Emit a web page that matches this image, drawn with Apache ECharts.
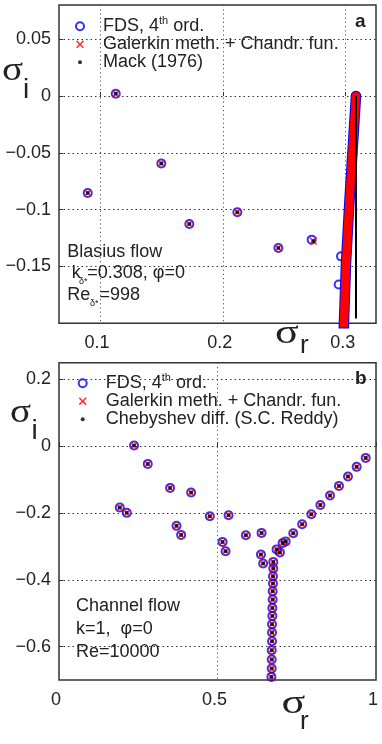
<!DOCTYPE html>
<html>
<head>
<meta charset="utf-8">
<script src="https://cdn.jsdelivr.net/npm/echarts@6/dist/echarts.min.js"></script>
<style>
html, body { margin: 0; padding: 0; background: #fff; }
#chart { width: 382px; height: 744px; }
</style>
</head>
<body>
<div id="chart"></div>
<script>
// ---- panel a : Blasius flow ----
// discrete modes
const blasR = [0.0900, 0.1128, 0.1499, 0.1727, 0.2118, 0.2452, 0.2723];
const blasI = [-0.0853, 0.0020, -0.0594, -0.1126, -0.1023, -0.1337, -0.1264];
const galR = [0.0900, 0.1128, 0.1499, 0.1727, 0.2118, 0.2452, 0.2736];
const galI = [-0.0853, 0.0020, -0.0594, -0.1126, -0.1023, -0.1337, -0.1276];
const mackR = [0.0900, 0.1128, 0.1499, 0.1727, 0.2118, 0.2452, 0.2736];
const mackI = [-0.0853, 0.0020, -0.0594, -0.1126, -0.1023, -0.1337, -0.1276];
// two FDS modes peeking out of the dense branch
const fdsStrayR = [0.2962, 0.2943];
const fdsStrayI = [-0.1411, -0.1658];
// dense continuous branch (FDS + Galerkin markers merge into a band)
const bandR = [0.3084, 0.3031, 0.3002, 0.2986, 0.2985];
const bandI = [0, -0.0917, -0.149, -0.2, -0.205];
// Mack continuous spectrum
const mackLineR = [0.3084, 0.3084];
const mackLineI = [0, -0.1958];

// ---- panel b : channel flow ----
const chanR = [0.2368, 0.2800, 0.3505, 0.4168, 0.1917, 0.2138, 0.3707, 0.3853, 0.4758, 0.5349,
               0.5160, 0.5254, 0.5895, 0.6390, 0.6370, 0.6440, 0.6864, 0.6970, 0.7055, 0.7150,
               0.7390, 0.7670, 0.7960, 0.8245, 0.8550, 0.8832, 0.9116, 0.9390, 0.9675];
const chanI = [0.0020, -0.0530, -0.1248, -0.1387, -0.1836, -0.1996, -0.2385, -0.2655, -0.2096, -0.2066,
               -0.2865, -0.3144, -0.2665, -0.2596, -0.3243, -0.3510, -0.3090, -0.3180, -0.2900, -0.2850,
               -0.2605, -0.2335, -0.2040, -0.1762, -0.1477, -0.1188, -0.0908, -0.0619, -0.0350];
// vertical S-branch
const colR = [0.676, 0.676, 0.675, 0.675, 0.674, 0.674, 0.673, 0.673, 0.672, 0.672, 0.672, 0.671, 0.671, 0.671, 0.670];
const colI = [-0.3464, -0.3662, -0.3892, -0.4111, -0.4341, -0.4590, -0.4841, -0.5081, -0.5329, -0.5578,
              -0.5838, -0.6108, -0.6386, -0.6656, -0.6907];

// tick labels
const xTicksA = [0.1, 0.2, 0.3];
const yTicksA = [0.05, 0, -0.05, -0.1, -0.15];
const xTicksB = [0, 0.5, 1];
const yTicksB = [0.2, 0, -0.2, -0.4, -0.6];

const FONT = 'Liberation Sans, Arial, sans-serif';
const TXT = '#222';
const BLUE = '#0000ff';
const RED = '#ff0000';
const VGRID = { color: '#555', type: [1.2, 3], width: 1 };
const HGRID = { color: '#333', type: [1.5, 3], width: 1 };
const xPath = 'path://M0,1.4L1.4,0L5,3.6L8.6,0L10,1.4L6.4,5L10,8.6L8.6,10L5,6.4L1.4,10L0,8.6L3.6,5Z';
const dotPath = 'path://M0,0M8,8M2,4a2,2 0 1,0 4,0a2,2 0 1,0 -4,0';

function zip(a, b) {
    let out = [];
    for (let i = 0; i < a.length; i++) out.push([a[i], b[i]]);
    return out;
}

function fmt(v) {
    return v < 0 ? '\u2212' + String(-v) : String(v);
}

function legendFmt(name) {
    if (name === 'FDS, 4th ord.') return '{n|FDS, 4}{sup|th}{n| ord.}';
    return '{n|' + name + '}';
}

// horizontal dotted grid lines at the y tick values
function hGrid(ticks) {
    return {
        silent: true,
        z: 1,
        symbol: ['none', 'none'],
        label: { show: false },
        lineStyle: HGRID,
        emphasis: { disabled: true },
        data: ticks.map(v => ({ yAxis: v }))
    };
}

function makeLegend(left, top, third) {
    return {
        orient: 'vertical',
        left: left,
        top: top,
        itemWidth: 8,
        itemHeight: 8,
        itemGap: 0,
        selectedMode: false,
        formatter: legendFmt,
        data: [
            { name: 'FDS, 4th ord.', icon: 'circle',
              itemStyle: { color: 'rgba(0,0,0,0)', borderColor: BLUE, borderWidth: 2 } },
            { name: 'Galerkin meth. + Chandr. fun.', icon: xPath, itemStyle: { color: RED, borderWidth: 0 } },
            { name: third, icon: dotPath, itemStyle: { color: '#000', borderWidth: 0 } }
        ],
        textStyle: {
            color: TXT,
            padding: [0, 0, 0, 14],
            rich: {
                n: { fontSize: 18, fontFamily: FONT, color: TXT, lineHeight: 21.6 },
                sup: { fontSize: 11, fontFamily: FONT, color: TXT, lineHeight: 14, verticalAlign: 'top' }
            }
        }
    };
}

function valueAxis(gridIndex, min, max, step, split, ticks, isX) {
    return {
        type: 'value',
        gridIndex: gridIndex,
        min: min,
        max: max,
        minInterval: step,
        maxInterval: step,
        splitNumber: split,
        axisLine: { show: false },
        axisTick: { show: true, inside: true, length: 4, customValues: ticks,
                    lineStyle: { color: '#333', width: 1 } },
        splitLine: { show: isX, showMinLine: true, showMaxLine: true, lineStyle: VGRID },
        axisLabel: {
            customValues: ticks,
            showMinLabel: true,
            showMaxLabel: true,
            fontSize: 18,
            fontFamily: FONT,
            color: TXT,
            margin: isX ? 11 : 8,
            padding: isX ? [0, 6, 0, 0] : 0,
            formatter: fmt
        }
    };
}

function txt(x, y, text, size, opts) {
    opts = opts || {};
    return {
        type: 'text',
        x: x,
        y: y,
        z: 100,
        scaleX: opts.scaleX || 1,
        style: {
            text: text,
            fill: TXT,
            fontSize: size,
            fontFamily: opts.family || FONT,
            fontWeight: opts.weight || 'normal',
            textAlign: 'left',
            textVerticalAlign: 'middle'
        }
    };
}

const circleStyle = { color: 'rgba(0,0,0,0)', borderColor: BLUE, borderWidth: 2 };

let chart = echarts.init(document.getElementById('chart'), null, { renderer: 'canvas' });

let option = {
    animation: false,
    backgroundColor: '#fff',
    grid: [
        { left: 59, top: 5, width: 317, height: 318.3, show: true, borderColor: '#333', borderWidth: 1.5 },
        { left: 59, top: 362.7, width: 317, height: 317.3, show: true, borderColor: '#333', borderWidth: 1.5 }
    ],
    xAxis: [
        valueAxis(0, 0.0666, 0.3247, 0.1, 3, xTicksA, true),
        valueAxis(1, 0, 1, 0.5, 2, xTicksB, true)
    ],
    yAxis: [
        valueAxis(0, -0.2, 0.08, 0.05, 5, yTicksA, false),
        valueAxis(1, -0.7, 0.25, 0.2, 5, yTicksB, false)
    ],
    legend: [
        makeLegend(70, 10.5, 'Mack (1976)'),
        makeLegend(72.7, 367.5, 'Chebyshev diff. (S.C. Reddy)')
    ],
    series: [
        // panel a
        {
            name: 'FDS, 4th ord.', type: 'scatter', xAxisIndex: 0, yAxisIndex: 0,
            symbol: 'circle', symbolSize: 8, itemStyle: circleStyle,
            markLine: hGrid(yTicksA),
            data: zip(blasR, blasI).concat(zip(fdsStrayR, fdsStrayI))
        },
        {
            name: 'FDS band', type: 'line', xAxisIndex: 0, yAxisIndex: 0,
            showSymbol: false, symbol: 'none', smooth: false,
            lineStyle: { color: BLUE, width: 10.5, cap: 'round', join: 'round' },
            data: zip(bandR, bandI)
        },
        {
            name: 'Galerkin band', type: 'line', xAxisIndex: 0, yAxisIndex: 0,
            showSymbol: false, symbol: 'none',
            lineStyle: { color: RED, width: 8.5, cap: 'round', join: 'round' },
            data: zip(bandR, bandI)
        },
        {
            name: 'Galerkin meth. + Chandr. fun.', type: 'scatter', xAxisIndex: 0, yAxisIndex: 0,
            symbol: xPath, symbolSize: 8, itemStyle: { color: RED },
            data: zip(galR, galI)
        },
        {
            name: 'Mack (1976)', type: 'scatter', xAxisIndex: 0, yAxisIndex: 0,
            symbol: 'circle', symbolSize: 4, itemStyle: { color: '#000' },
            data: zip(mackR, mackI)
        },
        {
            name: 'Mack line', type: 'line', xAxisIndex: 0, yAxisIndex: 0,
            symbol: 'none',
            lineStyle: { color: '#000', width: 2 },
            data: zip(mackLineR, mackLineI)
        },
        {
            name: 'Mack top', type: 'scatter', xAxisIndex: 0, yAxisIndex: 0,
            symbol: 'circle', symbolSize: 7,
            itemStyle: { color: RED, borderColor: '#000', borderWidth: 1.5 },
            data: [[mackLineR[0], mackLineI[0]]]
        },
        // panel b
        {
            name: 'FDS, 4th ord.', type: 'scatter', xAxisIndex: 1, yAxisIndex: 1,
            symbol: 'circle', symbolSize: 8, itemStyle: circleStyle,
            markLine: hGrid(yTicksB),
            data: zip(chanR, chanI).concat(zip(colR, colI))
        },
        {
            name: 'Galerkin meth. + Chandr. fun.', type: 'scatter', xAxisIndex: 1, yAxisIndex: 1,
            symbol: xPath, symbolSize: 8, itemStyle: { color: RED },
            data: zip(chanR, chanI).concat(zip(colR, colI))
        },
        {
            name: 'Chebyshev diff. (S.C. Reddy)', type: 'scatter', xAxisIndex: 1, yAxisIndex: 1,
            symbol: 'circle', symbolSize: 4, itemStyle: { color: '#000' },
            data: zip(chanR, chanI).concat(zip(colR, colI))
        }
    ],
    graphic: [
        // axis names
        txt(2, 71, 'σ', 34, { family: 'Liberation Serif, serif', scaleX: 1.15 }),
        txt(23, 90, 'i', 28),
        txt(275, 334.5, 'σ', 34, { family: 'Liberation Serif, serif', scaleX: 1.3 }),
        txt(300, 346, 'r', 26),
        txt(10, 413, 'σ', 34, { family: 'Liberation Serif, serif', scaleX: 1.15 }),
        txt(31.5, 431.5, 'i', 28),
        txt(281.5, 704.5, 'σ', 34, { family: 'Liberation Serif, serif', scaleX: 1.3 }),
        txt(300, 722, 'r', 26),
        // panel letters
        txt(355, 21.8, 'a', 19, { weight: 'bold' }),
        txt(355, 378.5, 'b', 19, { weight: 'bold' }),
        // panel a annotation
        txt(67.3, 251.8, 'Blasius flow', 18),
        txt(71.7, 273.5, 'k', 18),
        txt(79, 282, 'δ*', 9),
        txt(87.3, 273.5, '=0.308, φ=0', 18),
        txt(67.3, 295.2, 'Re', 18),
        txt(90, 304, 'δ*', 9),
        txt(99.5, 295.2, '=998', 18),
        // panel b annotation
        txt(76, 606.2, 'Channel flow', 18),
        txt(76, 629.5, 'k=1,  φ=0', 18),
        txt(76, 651.8, 'Re=10000', 18)
    ]
};

chart.setOption(option);
</script>
</body>
</html>
